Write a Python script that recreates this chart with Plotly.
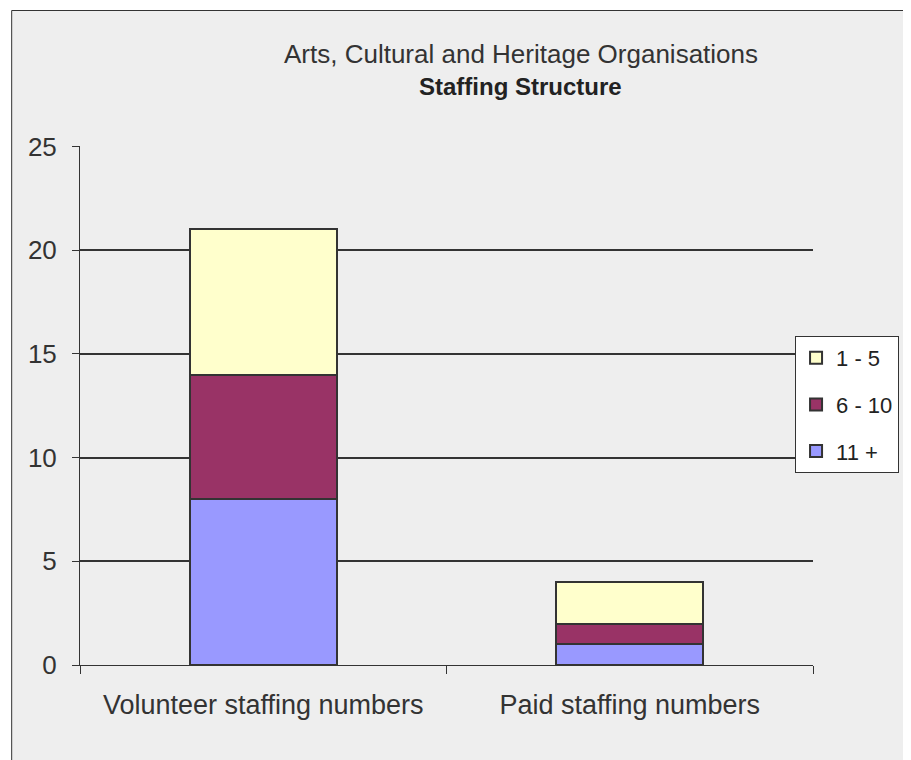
import plotly.graph_objects as go

categories = ["Volunteer staffing numbers", "Paid staffing numbers"]
series_names = ["11 +", "6 - 10", "1 - 5"]
values_11plus = [8, 1]
values_6_10 = [6, 1]
values_1_5 = [7, 2]
colors = ["#9999ff", "#993366", "#ffffcc"]
legend_ranks = [3, 2, 1]
y_ticks = [0, 5, 10, 15, 20, 25]

OFF = 8  # page body margin
W, H = 911 - OFF, 760 - OFF
L, R, T, B = 80 - OFF, 815 - OFF, 146 - OFF, 665 - OFF
pw, ph = R - L, B - T

def px(x):
    return (x - OFF - L) / pw

def py(y):
    return (B - (y - OFF)) / ph

fig = go.Figure()
for name, vals, col, rank in zip(series_names, [values_11plus, values_6_10, values_1_5], colors, legend_ranks):
    fig.add_trace(go.Bar(
        x=categories, y=vals, name=name, width=0.4,
        marker=dict(color=col, line=dict(color="#333333", width=2)),
        legendgroup=name, legendrank=rank,
    ))

FONT = "Liberation Sans, Arial, sans-serif"
fig.update_layout(
    width=W, height=H,
    margin=dict(l=L, r=W - R, t=T, b=H - B, pad=0),
    barmode="stack",
    paper_bgcolor="white",
    plot_bgcolor="rgba(0,0,0,0)",
    font=dict(family=FONT, size=20, color="#333333"),
    showlegend=True,
    legend=dict(
        x=px(797), y=py(336), xanchor="left", yanchor="top",
        bgcolor="white", bordercolor="#333333", borderwidth=1,
        traceorder="grouped", tracegroupgap=15,
        font=dict(size=22, color="#222222"),
        itemwidth=30,
    ),
    xaxis=dict(
        type="category", tickson="boundaries", ticks="outside", ticklen=8,
        tickcolor="#333333", tickwidth=1, showline=True, linecolor="#333333",
        linewidth=1, showgrid=False, tickfont=dict(size=27, color="#333333"),
        range=[-0.5, 1.5], ticklabelstandoff=16,
    ),
    yaxis=dict(
        range=[0, 25.02], tickvals=y_ticks, ticks="outside", ticklen=7,
        tickcolor="#333333", tickwidth=1, showline=True, linecolor="#333333",
        linewidth=1, showgrid=True,
        gridcolor="#333333", gridwidth=2, zeroline=False,
        tickfont=dict(size=26, color="#333333"), ticklabelstandoff=10,
    ),
    shapes=[dict(
        type="rect", xref="paper", yref="paper", layer="below",
        x0=px(11.5), x1=px(1000), y0=py(900), y1=py(10.5),
        fillcolor="#eeeeee", line=dict(color="#333333", width=1),
    )],
    annotations=[
        dict(text="Arts, Cultural and Heritage Organisations", xref="paper", yref="paper",
             x=px(522), y=py(54), xanchor="center", yanchor="middle", showarrow=False,
             font=dict(size=26, color="#333333")),
        dict(text="<b>Staffing Structure</b>", xref="paper", yref="paper",
             x=px(522), y=py(86), xanchor="center", yanchor="middle", showarrow=False,
             font=dict(size=24, color="#222222")),
    ],
)

fig.write_html("out.html")
